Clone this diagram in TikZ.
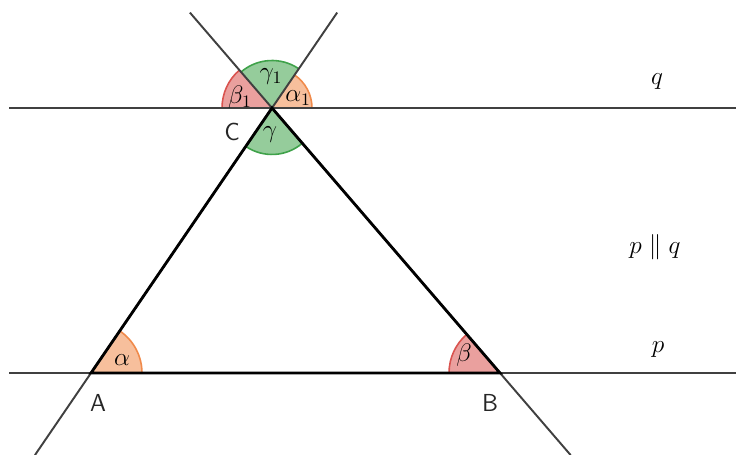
\documentclass[tikz,border=0pt]{standalone}
\usepackage{tikz}
\usetikzlibrary{angles,calc}
\definecolor{AngOrange}{HTML}{F08A4B}
\definecolor{AngRed}{HTML}{D9534F}
\definecolor{AngGreen}{HTML}{3FA24A}
\definecolor{LineGray}{HTML}{404040}

\begin{document}
\begin{tikzpicture}[
  x=0.02cm, y=0.02cm,
  seg/.style={line width=1.6pt, color=black, line cap=round},
  ext/.style={line width=1.1pt, color=LineGray},
  ang/.style={draw=#1, fill=#1!55, line width=0.9pt},
  lbl/.style={font=\fontsize{14}{16}\selectfont},
  pt/.style={font=\sffamily\fontsize{14}{16}\selectfont, text=black!85}
]

\useasboundingbox (0,0) rectangle (736,455);

% vertices
\coordinate (A) at (91,82);
\coordinate (B) at (500,82);
\coordinate (C) at (272,347);

% ends of p and q
\coordinate (pL) at (9,82);
\coordinate (pR) at (736,82);
\coordinate (qL) at (9,347);
\coordinate (qR) at (736,347);

% ends of the lines through the sides
\coordinate (acTop) at ($(A)!1.36!(C)$);
\coordinate (acBot) at ($(A)!-0.31!(C)$);
\coordinate (bcTop) at ($(B)!1.36!(C)$);
\coordinate (bcBot) at ($(B)!-0.31!(C)$);

% angles
\pic[ang=AngOrange, angle radius=1.02cm] {angle=B--A--C};
\pic[ang=AngRed, angle radius=1.02cm] {angle=C--B--A};
\pic[ang=AngGreen, angle radius=0.93cm] {angle=A--C--B};
\pic[ang=AngGreen, angle radius=0.95cm] {angle=acTop--C--bcTop};
\pic[ang=AngRed, angle radius=1.0cm] {angle=bcTop--C--qL};
\pic[ang=AngOrange, angle radius=0.8cm] {angle=qR--C--acTop};

% lines
\draw[ext] (pL) -- (pR);
\draw[ext] (qL) -- (qR);
\draw[ext] (acBot) -- (acTop);
\draw[ext] (bcBot) -- (bcTop);

% triangle
\draw[seg] (A) -- (B) -- (C) -- cycle;

% angle labels
\node[lbl] (labAlpha) at (122,95) {$\alpha$};
\node[lbl] (labBeta) at (464,100) {$\beta$};
\node[lbl] (labGamma) at (270,320) {$\gamma$};
\node[lbl] (labGammaOne) at (271,378) {$\gamma_1$};
\node[lbl] (labBetaOne) at (240,358) {$\beta_1$};
\node[lbl] (labAlphaOne) at (298,357) {$\alpha_1$};

% point labels
\node[pt] (labA) at (98,52) {A};
\node[pt] (labB) at (490,52) {B};
\node[pt] (labC) at (232,323) {C};

% line labels
\node[lbl] (labQ) at (657,373) {$q$};
\node[lbl] (labP) at (658,105) {$p$};
\node[lbl] (labPar) at (655,208) {$p \parallel q$};

\end{tikzpicture}
\end{document}
